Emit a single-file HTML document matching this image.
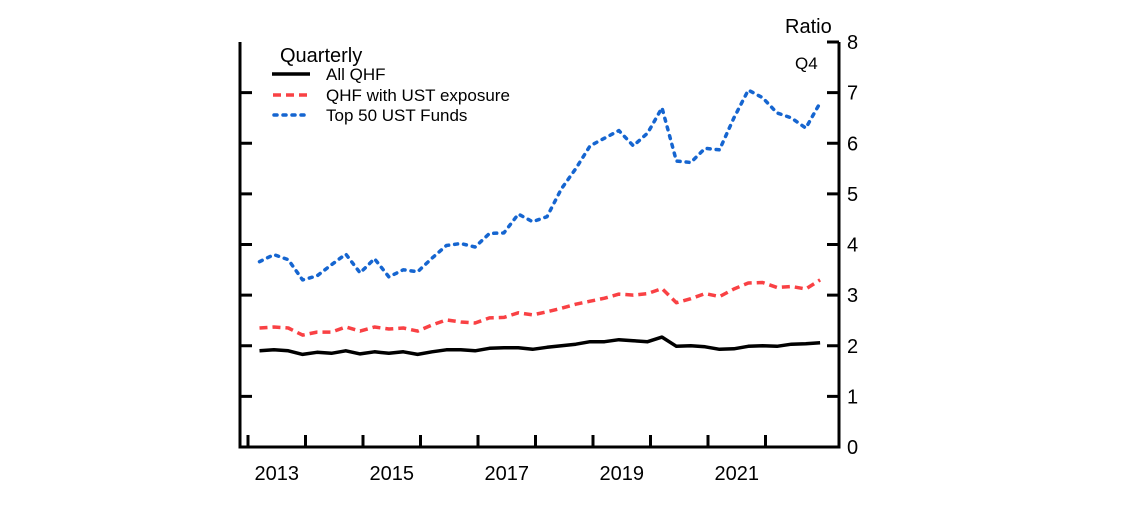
<!DOCTYPE html>
<html><head><meta charset="utf-8"><style>
body{margin:0;background:#fff}
svg text{font-family:"Liberation Sans",Arial,sans-serif;fill:#000}
</style></head><body>
<svg id="chart" width="1124" height="506" viewBox="0 0 1124 506" xmlns="http://www.w3.org/2000/svg">
<g id="axes"></g>
<g id="series"></g>
<g>
<text x="280" y="62" font-size="20">Quarterly</text>
<line x1="272" y1="74" x2="310" y2="74" stroke="#000" stroke-width="3.5"/>
<text x="326" y="80" font-size="17">All QHF</text>
<line x1="273" y1="95" x2="310" y2="95" stroke="#f94144" stroke-width="3.5" stroke-dasharray="8,5"/>
<text x="326" y="101" font-size="17">QHF with UST exposure</text>
<line x1="274" y1="115" x2="310" y2="115" stroke="#1565d0" stroke-width="3.5" stroke-dasharray="3,6" stroke-linecap="round"/>
<text x="326" y="121" font-size="17">Top 50 UST Funds</text>
</g>
<text x="785" y="33" font-size="20">Ratio</text>
<text x="795" y="69" font-size="17">Q4</text>
</svg>
<script>
const yTicks=[0,1,2,3,4,5,6,7,8];
const yearLabels=["2013","2015","2017","2019","2021"];
const allQHF=[1.9,1.92,1.9,1.83,1.87,1.85,1.9,1.84,1.88,1.85,1.88,1.83,1.88,1.92,1.92,1.9,1.95,1.96,1.96,1.93,1.97,2.0,2.03,2.08,2.08,2.12,2.1,2.08,2.17,1.99,2.0,1.98,1.93,1.94,1.99,2.0,1.99,2.03,2.04,2.06];
const ustExposure=[2.35,2.37,2.35,2.21,2.27,2.27,2.37,2.29,2.37,2.33,2.35,2.29,2.41,2.51,2.47,2.45,2.55,2.56,2.65,2.61,2.67,2.74,2.82,2.88,2.94,3.02,3.0,3.03,3.13,2.85,2.93,3.03,2.97,3.12,3.24,3.25,3.15,3.17,3.12,3.3];
const top50=[3.66,3.8,3.7,3.3,3.38,3.6,3.81,3.44,3.72,3.36,3.5,3.46,3.73,3.98,4.02,3.95,4.22,4.23,4.6,4.45,4.55,5.1,5.5,5.95,6.1,6.25,5.95,6.2,6.7,5.65,5.62,5.9,5.87,6.5,7.05,6.9,6.6,6.5,6.3,6.8];
const NS="http://www.w3.org/2000/svg";
const X0=248,YW=57.5,L=240,R=839,B=447,T=42;
function xq(i){return X0+(i+0.8)*YW/4;}
function y(v){return B-(v/8)*(B-T);}
function mk(tag,attrs,parent){const e=document.createElementNS(NS,tag);for(const k in attrs)e.setAttribute(k,attrs[k]);parent.appendChild(e);return e;}
const ax=document.getElementById('axes');
let e=mk('path',{d:`M${L} ${T}V${B}H${R}V${T}`,fill:'none',stroke:'#000','stroke-width':3},ax);


yTicks.forEach(v=>{
  const yy=y(v);
  if(v>0&&v<8){let t=mk('line',{x1:L,x2:L+12,y1:yy,y2:yy,stroke:'#000','stroke-width':3},ax);
  
  }
  if(v>0){let t2=mk('line',{x1:R-12,x2:R,y1:yy,y2:yy,stroke:'#000','stroke-width':3},ax);
  
  }
  let lb=mk('text',{x:847,y:yy+7,'font-size':20},ax);lb.textContent=v;
  
  
});
for(let k=0;k<10;k++){
  const xx=X0+k*YW;
  let t=mk('line',{x1:xx,x2:xx,y1:B-12,y2:B,stroke:'#000','stroke-width':3},ax);
  
  
}
yearLabels.forEach((s,k)=>{
  let lb=mk('text',{x:X0+YW*(2*k+0.5),y:480,'font-size':20,'text-anchor':'middle'},ax);lb.textContent=s;
  
  
});
const sg=document.getElementById('series');
function line(data,color,dash,name,cap){
  const d=data.map((v,i)=>(i?'L':'M')+xq(i).toFixed(1)+' '+y(v).toFixed(1)).join('');
  const p=mk('path',{d:d,fill:'none',stroke:color,'stroke-width':3.5,'stroke-linejoin':'round'},sg);
  if(dash)p.setAttribute('stroke-dasharray',dash);
  if(cap)p.setAttribute('stroke-linecap',cap);
  
  
}
line(allQHF,'#000',null,'line-all-qhf');
line(ustExposure,'#f94144','8,5','line-ust-exposure');
line(top50,'#1565d0','3,6','line-top50','round');
</script>
</body></html>
